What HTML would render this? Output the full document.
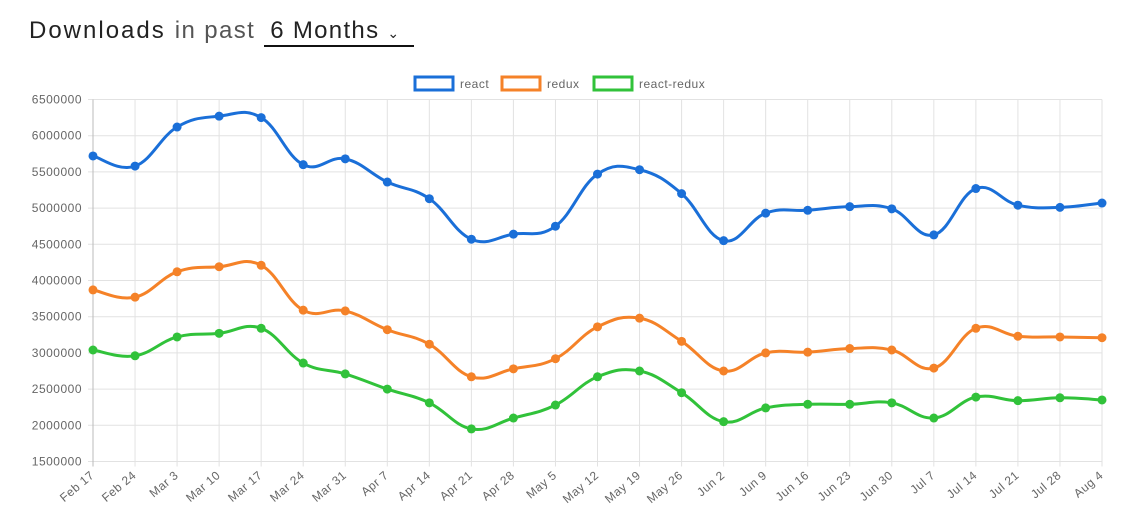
<!DOCTYPE html>
<html><head><meta charset="utf-8"><style>
body{margin:0;background:#fff;width:1128px;height:527px;overflow:hidden;font-family:"Liberation Sans",sans-serif}
#title{position:absolute;left:29px;top:17px;font-size:24px;letter-spacing:1.6px;color:#222;white-space:nowrap}
#title .sub{color:#555;margin-left:9px;letter-spacing:1.4px}
#dd{display:inline-block;border-bottom:2px solid #111;padding:0 14px 0 6px;margin-left:9px;color:#222;letter-spacing:1.3px}
svg{position:absolute;left:0;top:0}
</style></head><body>
<div id="title"><span style="font-weight:500;letter-spacing:2px">Downloads</span><span class="sub">in past</span><span id="dd">6 Months <span style="font-size:14px">⌄</span></span></div>
<svg id="c" width="1128" height="527"></svg>
<script>
const categories=["Feb 17","Feb 24","Mar 3","Mar 10","Mar 17","Mar 24","Mar 31","Apr 7","Apr 14","Apr 21","Apr 28","May 5","May 12","May 19","May 26","Jun 2","Jun 9","Jun 16","Jun 23","Jun 30","Jul 7","Jul 14","Jul 21","Jul 28","Aug 4"];
const reactVals=[5720000,5580000,6120000,6270000,6250000,5600000,5680000,5360000,5130000,4570000,4640000,4750000,5470000,5530000,5200000,4550000,4930000,4970000,5020000,4990000,4630000,5270000,5040000,5010000,5070000];
const reduxVals=[3870000,3770000,4120000,4190000,4210000,3590000,3580000,3320000,3120000,2670000,2780000,2920000,3360000,3480000,3160000,2750000,3000000,3010000,3060000,3040000,2790000,3340000,3230000,3220000,3210000];
const reactReduxVals=[3040000,2960000,3220000,3270000,3340000,2860000,2710000,2500000,2310000,1950000,2100000,2280000,2670000,2750000,2450000,2050000,2240000,2290000,2290000,2310000,2100000,2390000,2340000,2380000,2350000];
const yTicks=[1500000,2000000,2500000,3000000,3500000,4000000,4500000,5000000,5500000,6000000,6500000];
const seriesNames=["react","redux","react-redux"];
const svg=document.getElementById('c'),NS="http://www.w3.org/2000/svg";
const X0=93,X1=1102,Y0=461.5,Y1=99.5,ymin=1500000,ymax=6500000;
const x=i=>X0+(X1-X0)*i/(categories.length-1);
const y=v=>Y0-(v-ymin)/(ymax-ymin)*(Y0-Y1);
function el(t,a,p){const e=document.createElementNS(NS,t);for(const k in a)e.setAttribute(k,a[k]);(p||svg).appendChild(e);return e;}
yTicks.forEach(v=>{const l=el('line',{x1:X0-5,x2:X1,y1:y(v),y2:y(v),stroke:'#e2e2e2'});


const t=el('text',{x:X0-11,y:y(v)+4,'text-anchor':'end','font-size':12,fill:'#666','letter-spacing':'0.5'});t.textContent=v;

});
categories.forEach((c,i)=>{const l=el('line',{x1:x(i),x2:x(i),y1:Y1,y2:Y0+5,stroke:i==0?'#bbb':'#e2e2e2'});


const t=el('text',{x:x(i)+2,y:Y0+15,'text-anchor':'end','font-size':12,fill:'#666','letter-spacing':'0.5',transform:`rotate(-40 ${x(i)+2} ${Y0+15})`});t.textContent=c;

});
const colors=['#1a6fd8','#f58228','#31c23a'];
[reactVals,reduxVals,reactReduxVals].forEach((vals,s)=>{
const P=vals.map((v,i)=>[x(i),y(v)]);const T=0.4;let d=`M${P[0][0]},${P[0][1]}`;
for(let i=0;i<P.length-1;i++){const p0=P[i-1]||P[i],p1=P[i],p2=P[i+1],p3=P[i+2]||P[i+1];
const c1=[p1[0]+(p2[0]-p0[0])*T/2,p1[1]+(p2[1]-p0[1])*T/2],c2=[p2[0]-(p3[0]-p1[0])*T/2,p2[1]-(p3[1]-p1[1])*T/2];
d+=`C${c1[0]},${c1[1]} ${c2[0]},${c2[1]} ${p2[0]},${p2[1]}`;}
const pa=el('path',{d,fill:'none',stroke:colors[s],'stroke-width':3});


P.forEach(p=>{const c=el('circle',{cx:p[0],cy:p[1],r:4.5,fill:colors[s]});

});
});
const lx=[415,502,594];
seriesNames.forEach((n,s)=>{const r=el('rect',{x:lx[s],y:77,width:38,height:13,fill:'none',stroke:colors[s],'stroke-width':3});


const t=el('text',{x:lx[s]+45,y:88,'font-size':12,fill:'#666','letter-spacing':'0.5'});t.textContent=n;

});
</script>
</body></html>
